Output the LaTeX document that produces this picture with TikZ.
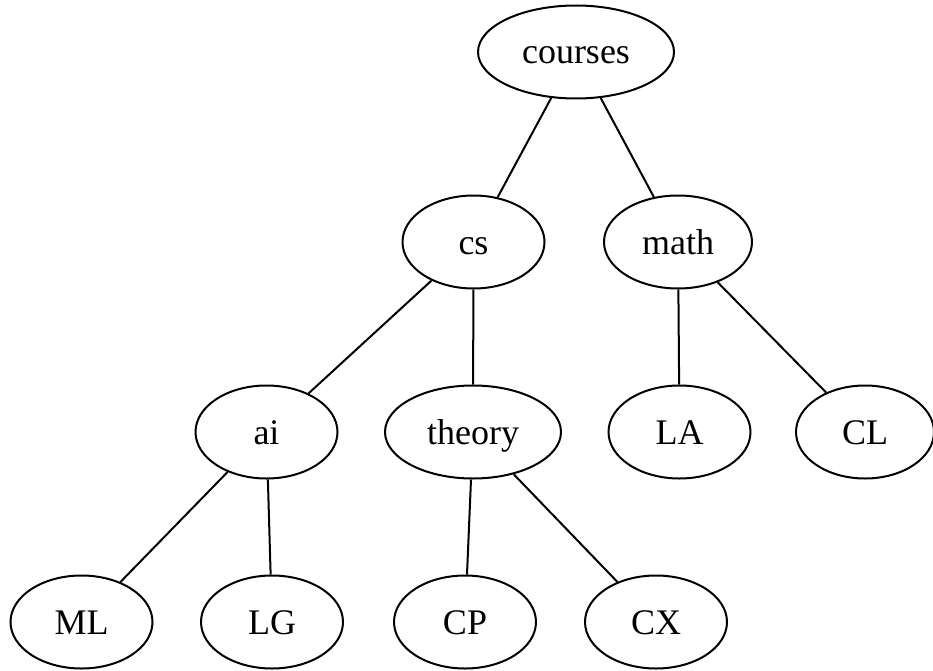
\documentclass[tikz,border=0pt]{standalone}
\usepackage{fontspec}
\setmainfont{Liberation Serif}
\usetikzlibrary{shapes.geometric}
\begin{document}
\begin{tikzpicture}[x=1pt,y=-1pt,
  tnode/.style={ellipse,draw,line width=2pt,inner sep=0pt,
    minimum width=142pt,minimum height=93pt,text height=28pt,text depth=4pt,
    font=\fontsize{36}{36}\selectfont},
  tedge/.style={line width=2pt}]
  \useasboundingbox (0,0) rectangle (933,671);
  % level 0
  \node[tnode,minimum width=196pt] (courses) at (576,52) {courses};
  % level 1
  \node[tnode] (cs) at (473.5,242) {cs};
  \node[tnode,minimum width=148pt] (math) at (678,242) {math};
  % level 2
  \node[tnode] (ai) at (266.5,432) {ai};
  \node[tnode,minimum width=176pt] (theory) at (473,432) {theory};
  \node[tnode] (LA) at (679.5,432) {LA};
  \node[tnode,minimum width=138pt] (CL) at (865,432) {CL};
  % level 3
  \node[tnode] (ML) at (81.5,622) {ML};
  \node[tnode] (LG) at (272,622) {LG};
  \node[tnode] (CP) at (465,622) {CP};
  \node[tnode] (CX) at (656,622) {CX};
  % edges
  \draw[tedge] (courses) -- (cs);
  \draw[tedge] (courses) -- (math);
  \draw[tedge] (cs) -- (ai);
  \draw[tedge] (cs) -- (theory);
  \draw[tedge] (math) -- (LA);
  \draw[tedge] (math) -- (CL);
  \draw[tedge] (ai) -- (ML);
  \draw[tedge] (ai) -- (LG);
  \draw[tedge] (theory) -- (CP);
  \draw[tedge] (theory) -- (CX);
\end{tikzpicture}
\end{document}
